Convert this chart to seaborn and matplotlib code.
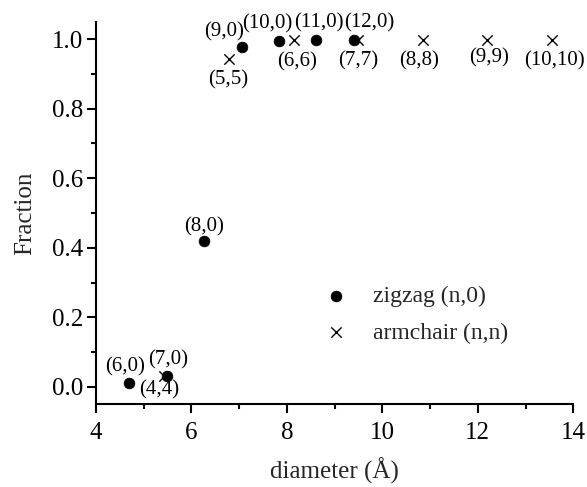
import matplotlib
matplotlib.use("Agg")
import matplotlib.pyplot as plt
from matplotlib.ticker import MultipleLocator
import seaborn as sns
import pandas as pd

# Zigzag (n,0) tubes: diameter (Å) and fraction
zigzag_labels = ["(6,0)", "(7,0)", "(8,0)", "(9,0)", "(10,0)", "(11,0)", "(12,0)"]
zigzag_diameter = [4.70, 5.48, 6.26, 7.05, 7.83, 8.61, 9.40]
zigzag_fraction = [0.012, 0.031, 0.420, 0.976, 0.995, 0.998, 0.998]

# Armchair (n,n) tubes: diameter (Å) and fraction
armchair_labels = ["(4,4)", "(5,5)", "(6,6)", "(7,7)", "(8,8)", "(9,9)", "(10,10)"]
armchair_diameter = [5.42, 6.78, 8.14, 9.49, 10.85, 12.20, 13.56]
armchair_fraction = [0.030, 0.944, 0.998, 0.998, 0.998, 0.998, 0.998]

# label offsets in points (dx, dy)
zigzag_offsets = [(-3, 11.5), (1, 12), (0, 10), (-12.5, 11.5), (-8, 12), (2, 12), (11, 12)]
armchair_offsets = [(-3.5, -9.5), (0, -15), (2.5, -16), (0, -15), (-2.5, -15), (1, -13), (1.5, -15.5)]

zig = pd.DataFrame({"diameter": zigzag_diameter, "fraction": zigzag_fraction, "label": zigzag_labels})
arm = pd.DataFrame({"diameter": armchair_diameter, "fraction": armchair_fraction, "label": armchair_labels})

sns.set_style("ticks")
plt.rcParams["font.family"] = ["Liberation Serif", "DejaVu Serif"]
plt.rcParams["mathtext.fontset"] = "stix"

fig = plt.figure(figsize=(5.87, 4.87), dpi=100)
ax = fig.add_axes([0.1635, 0.1698, 0.8132, 0.7856])

sns.scatterplot(data=arm, x="diameter", y="fraction", marker="x", s=55, color="black",
                linewidth=1.0, ax=ax, label="armchair (n,n)", zorder=2)
sns.scatterplot(data=zig, x="diameter", y="fraction", marker="o", s=60, color="black",
                edgecolor="black", linewidth=0.5, ax=ax, label="zigzag (n,0)", zorder=3)

for df, offs in ((zig, zigzag_offsets), (arm, armchair_offsets)):
    for (xv, yv, lab), (dx, dy) in zip(df[["diameter", "fraction", "label"]].values, offs):
        ax.annotate(lab, (xv, yv), xytext=(dx, dy), textcoords="offset points",
                    ha="center", va="center", fontsize=15, color="black")

ax.set_xlim(4, 14)
ax.set_ylim(-0.05, 1.05)
ax.xaxis.set_major_locator(MultipleLocator(2))
ax.xaxis.set_minor_locator(MultipleLocator(1))
ax.yaxis.set_major_locator(MultipleLocator(0.2))
ax.yaxis.set_minor_locator(MultipleLocator(0.1))
ax.yaxis.set_major_formatter(matplotlib.ticker.FormatStrFormatter("%.1f"))

for side in ("top", "right"):
    ax.spines[side].set_visible(False)
for side in ("left", "bottom"):
    ax.spines[side].set_linewidth(1.5)
    ax.spines[side].set_color("black")

ax.tick_params(axis="both", which="major", direction="out", length=6.5, width=1.5,
               labelsize=18, colors="black")
ax.tick_params(axis="both", which="minor", direction="out", length=3.8, width=1.5, colors="black")
ax.tick_params(axis="x", which="major", pad=6)
ax.tick_params(axis="y", which="major", pad=3)

ax.set_xlabel("diameter (Å)", fontsize=18, labelpad=10)
ax.set_ylabel("Fraction", fontsize=18, labelpad=11)

handles, labels = ax.get_legend_handles_labels()
order = [labels.index("zigzag (n,0)"), labels.index("armchair (n,n)")]
ax.legend([handles[i] for i in order], [labels[i] for i in order],
          loc="center left", bbox_to_anchor=(0.434, 0.235), frameon=False,
          fontsize=17, handletextpad=0.55, labelspacing=0.65, borderaxespad=0)

fig.savefig("out.png", dpi=100)
